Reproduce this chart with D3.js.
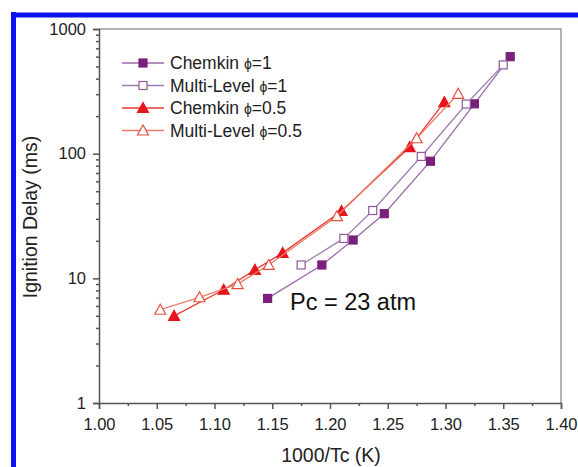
<!DOCTYPE html>
<html>
<head>
<meta charset="utf-8">
<script src="https://cdn.jsdelivr.net/npm/d3@7"></script>
<style>
	body { margin: 0; background: #fff; }
	svg { font-family: "Liberation Sans", Arial, sans-serif; }
</style>
</head>
<body>
<svg id="chart" width="578" height="467"></svg>
<script>
// data: x = 1000/Tc (K), y = ignition delay (ms)
const chemkin1_x = [1.146, 1.193, 1.220, 1.247, 1.287, 1.325, 1.356];
const chemkin1_y = [6.9, 12.8, 20.3, 33, 87, 251, 600];
const multi1_x = [1.175, 1.212, 1.237, 1.279, 1.318, 1.350];
const multi1_y = [12.8, 20.9, 35, 95, 250, 515];
const chemkin05_x = [1.065, 1.108, 1.135, 1.159, 1.210, 1.269, 1.299];
const chemkin05_y = [5.0, 8.1, 11.7, 16.0, 34.7, 113, 259];
const multi05_x = [1.053, 1.087, 1.120, 1.147, 1.206, 1.275, 1.311];
const multi05_y = [5.6, 7.05, 9.0, 12.8, 31.5, 133, 302];

const seriesNames = ["Chemkin \u03d5=1", "Multi-Level \u03d5=1", "Chemkin \u03d5=0.5", "Multi-Level \u03d5=0.5"];
const xTicks = [1.00, 1.05, 1.10, 1.15, 1.20, 1.25, 1.30, 1.35, 1.40];
const yTicks = [1, 10, 100, 1000];

const series = [
	{name: seriesNames[0], xs: chemkin1_x, ys: chemkin1_y, shape: "square", fill: "#7a1f7c", stroke: "#7a1f7c", line: "#9b6aa8"},
	{name: seriesNames[1], xs: multi1_x, ys: multi1_y, shape: "square", fill: "#fff", stroke: "#8e5a9c", line: "#a07eb0"},
	{name: seriesNames[2], xs: chemkin05_x, ys: chemkin05_y, shape: "triangle", fill: "#e8141c", stroke: "#e8141c", line: "#ea3a36"},
	{name: seriesNames[3], xs: multi05_x, ys: multi05_y, shape: "triangle", fill: "#fff", stroke: "#e0503e", line: "#ec7a66"}
];

const svg = d3.select("#chart");
const mLeft = 99, mRight = 561, mTop = 29, mBottom = 403;

const x = d3.scaleLinear().domain([1.0, 1.4]).range([mLeft, mRight]);
const y = d3.scaleLog().domain([1, 1000]).range([mBottom, mTop]);

// blue frame of the figure
svg.append("line").attr("x1", 13.5).attr("x2", 13.5).attr("y1", 12).attr("y2", 467)
	.attr("stroke", "#0a12ee").attr("stroke-width", 5);
svg.append("line").attr("x1", 11).attr("x2", 578).attr("y1", 15).attr("y2", 15)
	.attr("stroke", "#0a12ee").attr("stroke-width", 5);

// top and right frame lines
svg.append("path")
	.attr("d", `M${mLeft},${mTop}H${mRight}V${mBottom}`)
	.attr("fill", "none").attr("stroke", "#9a9a9a").attr("stroke-width", 1.5);

// x axis
const xAxis = svg.append("g").attr("transform", `translate(0,${mBottom})`)
	.call(d3.axisBottom(x).tickValues(xTicks).tickFormat(d3.format(".2f")).tickSizeOuter(0).tickSize(6).tickPadding(6));
svg.append("g").attr("transform", `translate(0,${mBottom})`)
	.call(d3.axisBottom(x).tickValues(xTicks.slice(0, -1).map(d => d + 0.025)).tickFormat("").tickSize(3))
	.select(".domain").remove();

// y axis
const minorY = [];
yTicks.slice(0, -1).forEach(d => { for (let k = 2; k < 10; k++) minorY.push(d * k); });
svg.append("g").attr("transform", `translate(${mLeft},0)`)
	.call(d3.axisLeft(y).tickValues(yTicks).tickFormat(d3.format("d")).tickSizeOuter(0).tickSize(6).tickPadding(7));
svg.append("g").attr("transform", `translate(${mLeft},0)`)
	.call(d3.axisLeft(y).tickValues(minorY).tickFormat("").tickSize(3))
	.select(".domain").remove();

svg.selectAll(".domain, .tick line").attr("stroke", "#555").attr("stroke-width", 1.5);
svg.selectAll(".tick text").attr("font-size", 16.5).attr("fill", "#222")
	.attr("font-family", "'Liberation Sans', Arial, sans-serif");
xAxis.selectAll(".tick text").attr("dy", "0.9em");

// axis titles
svg.append("text").attr("x", 331).attr("y", 462)
	.attr("text-anchor", "middle").attr("font-size", 19.5).attr("fill", "#222").text("1000/Tc (K)");
svg.append("text").attr("transform", `translate(37,217) rotate(-90)`)
	.attr("text-anchor", "middle").attr("font-size", 19.5).attr("fill", "#222").text("Ignition Delay (ms)");

function drawMarker(g, shape, s) {
	if (shape === "square") {
		g.append("rect").attr("x", -4).attr("y", -4).attr("width", 8).attr("height", 8)
			.attr("fill", s.fill).attr("stroke", s.stroke).attr("stroke-width", 1.2);
	} else {
		g.append("path").attr("d", "M0,-5.5L5.5,4.5L-5.5,4.5Z")
			.attr("fill", s.fill).attr("stroke", s.stroke).attr("stroke-width", 1.2);
	}
}

const line = d3.line().x(d => x(d[0])).y(d => y(d[1]));

series.forEach(s => {
	const pts = s.xs.map((v, i) => [v, s.ys[i]]);
	svg.append("path").datum(pts).attr("d", line)
		.attr("fill", "none").attr("stroke", s.line).attr("stroke-width", 1.3);
	svg.append("g").selectAll("g").data(pts).join("g")
		.attr("transform", d => `translate(${x(d[0])},${y(d[1])})`)
		.each(function() { drawMarker(d3.select(this), s.shape, s); });
});

// legend
const legend = svg.append("g");
series.forEach((s, i) => {
	const ly = 63 + i * 22.5;
	legend.append("line").attr("x1", 122).attr("x2", 164).attr("y1", ly).attr("y2", ly)
		.attr("stroke", s.line).attr("stroke-width", 1.3);
	drawMarker(legend.append("g").attr("transform", `translate(143,${ly})`), s.shape, s);
	const parts = s.name.split("\u03d5");
	const t = legend.append("text").attr("x", 170).attr("y", ly + 6)
		.attr("font-size", 17.5).attr("fill", "#222");
	t.append("tspan").text(parts[0]);
	t.append("tspan").attr("font-size", 14).text("\u03d5");
	t.append("tspan").text(parts[1]);
});

svg.append("text").attr("x", 290).attr("y", 310).attr("font-size", 23.5).attr("fill", "#111")
	.text("Pc = 23 atm");
</script>
</body>
</html>
